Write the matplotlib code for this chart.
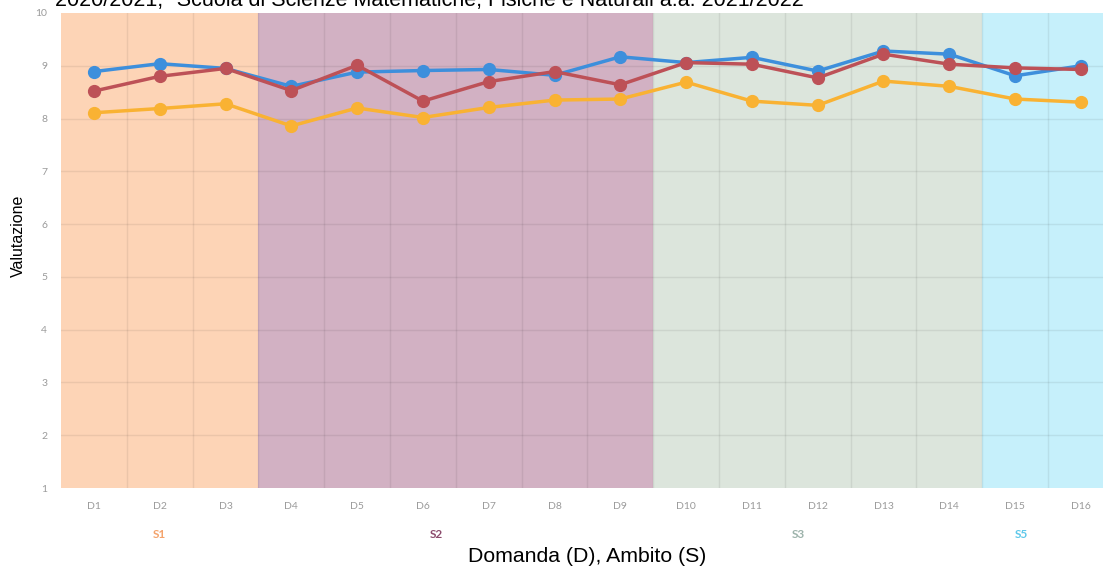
import matplotlib.pyplot as plt
import numpy as np

# data
domande = ['D1', 'D2', 'D3', 'D4', 'D5', 'D6', 'D7', 'D8',
           'D9', 'D10', 'D11', 'D12', 'D13', 'D14', 'D15', 'D16']
serie_blu = [8.89, 9.04, 8.95, 8.61, 8.88, 8.91, 8.93, 8.82,
             9.17, 9.06, 9.16, 8.90, 9.28, 9.22, 8.81, 9.00]
serie_rossa = [8.52, 8.80, 8.95, 8.53, 9.01, 8.33, 8.70, 8.89,
               8.64, 9.06, 9.03, 8.77, 9.22, 9.03, 8.96, 8.93]
serie_gialla = [8.11, 8.19, 8.28, 7.86, 8.20, 8.02, 8.21, 8.35,
                8.37, 8.69, 8.33, 8.25, 8.71, 8.61, 8.37, 8.31]

ambiti = ['S1', 'S2', 'S3', 'S5']
ambiti_start = [0, 3, 9, 14]
ambiti_end = [3, 9, 14, 16]
ambiti_label_pos = [1.0, 5.2, 10.7, 14.1]

band_colors = ['#fdd4b6', '#d2b1c3', '#dce5dc', '#c6f0fb']
label_colors = ['#f4a36c', '#8c4b6c', '#9db3ab', '#5ec8ea']

title = '2020/2021, "Scuola di Scienze Matematiche, Fisiche e Naturali a.a. 2021/2022'

fig = plt.figure(figsize=(11.03, 5.68), dpi=100)
ax = fig.add_axes([61 / 1103, 80 / 568, 1 - 61 / 1103, (488 - 13) / 568])

x = np.arange(len(domande))

for s, e, c in zip(ambiti_start, ambiti_end, band_colors):
    ax.axvspan(s - 0.5, e - 0.5, color=c, lw=0, zorder=0)

# grid lines: category boundaries and integer ratings
for b in np.arange(0.5, 15.5, 1):
    ax.axvline(b, color='#000000', alpha=0.07, lw=1, zorder=1)
for v in range(2, 10):
    ax.axhline(v, color='#000000', alpha=0.07, lw=1, zorder=1)

ax.plot(x, serie_gialla, color='#f9b233', lw=2.5, marker='o', ms=8.5, zorder=3)
ax.plot(x, serie_blu, color='#3d8fdc', lw=2.5, marker='o', ms=8.5, zorder=4)
ax.plot(x, serie_rossa, color='#bd5157', lw=2.5, marker='o', ms=8.5, zorder=5)

ax.set_xlim(-0.5, -0.5 + 1042 / 65.8)
ax.set_ylim(1, 10)
ax.set_yticks(range(1, 11))
ax.set_xticks(x)
ax.set_xticklabels(domande)
ax.tick_params(length=0, colors='#9a9a9a', labelsize=7.5)
ax.tick_params(axis='x', pad=10)
ax.tick_params(axis='y', pad=10)
for lbl in ax.get_xticklabels() + ax.get_yticklabels():
    lbl.set_fontfamily('Lato')
for sp in ax.spines.values():
    sp.set_visible(False)

for name, pos, c in zip(ambiti, ambiti_label_pos, label_colors):
    ax.text(pos, -0.097, name, transform=ax.get_xaxis_transform(),
            ha='center', va='center', fontsize=8.5, color=c,
            fontweight='bold', family='Lato')

fig.text(587 / 1103, 1 - 556 / 568, 'Domanda (D), Ambito (S)',
         ha='center', va='center', fontsize=15.3, family='Liberation Sans')
fig.text(18 / 1103, 1 - 236 / 568, 'Valutazione', rotation=90,
         ha='center', va='center', fontsize=11.5, family='Liberation Sans')
fig.text(55 / 1103, 1 - 6 / 568, title, ha='left', va='baseline',
         fontsize=15.5, family='Liberation Sans')

plt.savefig('out.png', dpi=100)
plt.close()
